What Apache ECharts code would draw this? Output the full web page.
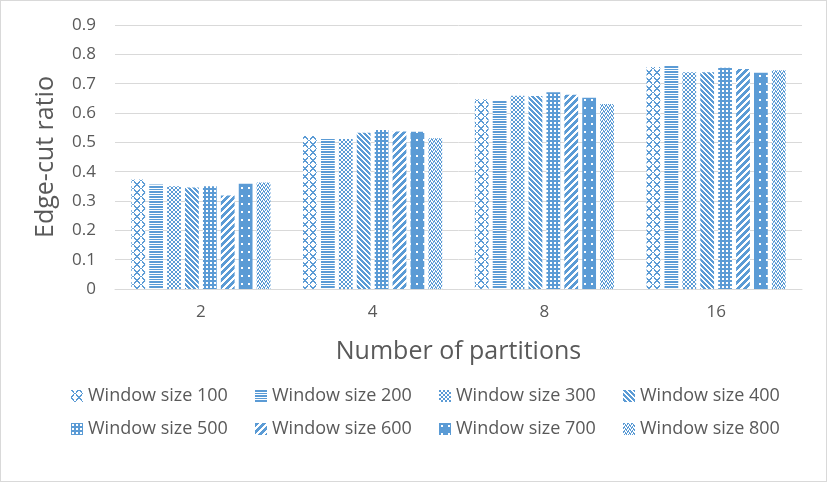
<!DOCTYPE html>
<html>
<head>
<meta charset="utf-8">
<title>Edge-cut ratio</title>
<script src="https://cdn.jsdelivr.net/npm/echarts@6/dist/echarts.min.js"></script>
<style>
  html, body { margin: 0; padding: 0; background: #fff; }
  #chart { width: 827px; height: 482px; box-sizing: border-box; border: 1px solid #d9d9d9; }
</style>
</head>
<body>
<div id="chart"></div>
<script>
// data
var categories = ['2', '4', '8', '16'];
var seriesNames = ['Window size 100', 'Window size 200', 'Window size 300', 'Window size 400',
                   'Window size 500', 'Window size 600', 'Window size 700', 'Window size 800'];
var w100 = [0.373, 0.522, 0.647, 0.757];
var w200 = [0.356, 0.514, 0.642, 0.760];
var w300 = [0.350, 0.511, 0.659, 0.739];
var w400 = [0.346, 0.533, 0.658, 0.739];
var w500 = [0.350, 0.542, 0.671, 0.754];
var w600 = [0.319, 0.537, 0.662, 0.750];
var w700 = [0.359, 0.536, 0.652, 0.737];
var w800 = [0.363, 0.514, 0.631, 0.746];
var values = [w100, w200, w300, w400, w500, w600, w700, w800];

var blue = '#5B9BD5';
var textColor = '#595959';
var fontName = '"Open Sans", "Noto Sans", sans-serif';

// small pixel tiles for the Excel-like pattern fills
function tile(rows) {
    var c = document.createElement('canvas');
    c.width = rows[0].length;
    c.height = rows.length;
    var ctx = c.getContext('2d');
    ctx.fillStyle = '#fff';
    ctx.fillRect(0, 0, c.width, c.height);
    ctx.fillStyle = blue;
    for (var y = 0; y < rows.length; y++) {
        for (var x = 0; x < rows[y].length; x++) {
            if (rows[y][x] === 'x') ctx.fillRect(x, y, 1, 1);
        }
    }
    return c;
}
function diag(n, band, up) {
    var rows = [];
    for (var y = 0; y < n; y++) {
        var r = '';
        for (var x = 0; x < n; x++) {
            var d = up ? (x + y) % n : (x - y + n) % n;
            r += d < band ? 'x' : '.';
        }
        rows.push(r);
    }
    return rows;
}
var tiles = [
    tile(['xx....xx', '.xx..xx.', '..x..x..', '...xx...', '..x..x..', '.xx..xx.', 'xx....xx', 'x......x']),
    tile(['x', 'x', '.', 'x', '.']),
    tile(['xx..', 'xx..', '..xx', '..xx']),
    tile(diag(5, 3, false)),
    tile(['xxxx', 'x..x', 'x..x', 'xxxx']),
    tile(diag(7, 4, true)),
    tile(['xxxxxxx', 'xxxxxxx', 'xx..xxx', 'xx..xxx', 'xxxxxxx', 'xxxxxxx', 'xxxxxxx', 'xxxxxxx']),
    tile(['xx..', 'x.x.', '..xx', '.x.x'])
];

var series = [];
for (var i = 0; i < seriesNames.length; i++) {
    series.push({
        name: seriesNames[i],
        type: 'bar',
        data: values[i],
        barGap: '30%',
        barCategoryGap: '19%',
        itemStyle: { color: { image: tiles[i], repeat: 'repeat' } }
    });
}

var myChart = echarts.init(document.getElementById('chart'));
myChart.setOption({
    animation: false,
    textStyle: { fontFamily: fontName },
    grid: { left: 114, right: 24, top: 24, bottom: 192, containLabel: false },
    legend: {
        data: seriesNames,
        left: 65,
        top: 379,
        width: 745,
        icon: 'rect',
        itemWidth: 12,
        itemHeight: 12,
        itemGap: 11,
        textStyle: { color: textColor, fontSize: 18, width: 156, lineHeight: 22, fontFamily: fontName }
    },
    xAxis: {
        type: 'category',
        data: categories,
        name: 'Number of partitions',
        nameLocation: 'middle',
        nameGap: 50,
        nameTextStyle: { color: textColor, fontSize: 25, fontFamily: fontName },
        axisLine: { lineStyle: { color: '#d9d9d9' } },
        axisTick: { show: false },
        axisLabel: { color: textColor, fontSize: 17, margin: 15 }
    },
    yAxis: {
        type: 'value',
        min: 0,
        max: 0.9,
        interval: 0.1,
        name: 'Edge-cut ratio',
        nameLocation: 'middle',
        nameGap: 57,
        nameTextStyle: { color: textColor, fontSize: 25, fontFamily: fontName },
        axisLine: { show: false },
        axisTick: { show: false },
        splitLine: { lineStyle: { color: '#d9d9d9' } },
        axisLabel: {
            color: textColor,
            fontSize: 17,
            margin: 19,
            formatter: function (v) { return v === 0 ? '0' : v.toFixed(1); }
        }
    },
    series: series
});
</script>
</body>
</html>
